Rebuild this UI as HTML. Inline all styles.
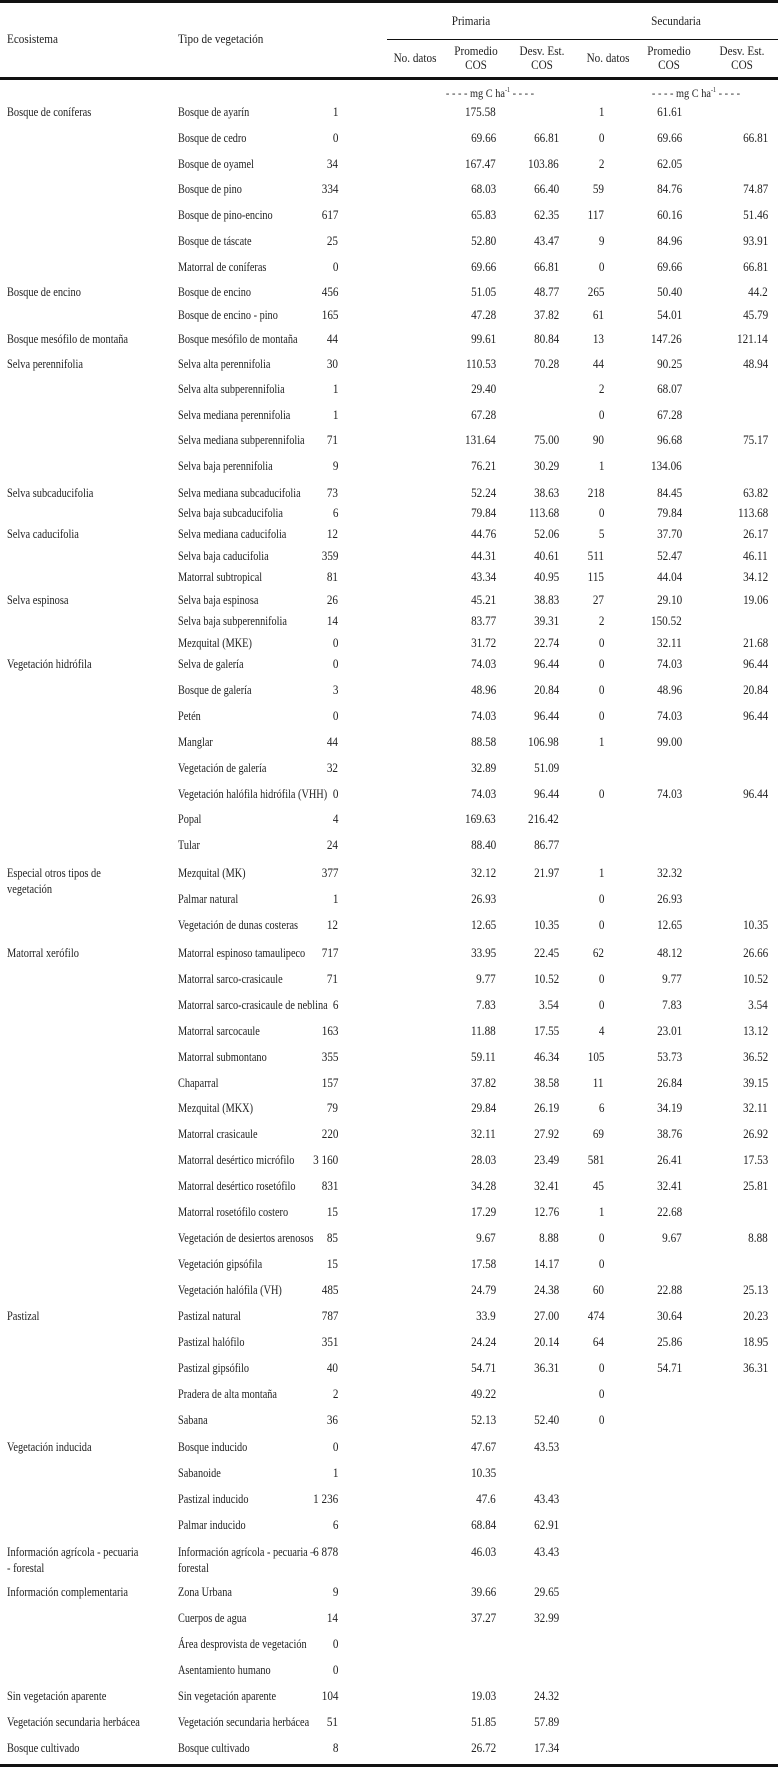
<!DOCTYPE html>
<html><head><meta charset="utf-8"><style>
body{margin:0;background:#fff;width:778px;height:1768px;position:relative;overflow:hidden;font-family:"Liberation Serif",serif;font-size:13px;color:#222}
.l{position:absolute;left:0;width:778px;background:#111}
.r{position:absolute;left:0;width:778px;height:16px;line-height:16px}
.r span{position:absolute;white-space:nowrap;top:0}
.e{left:7px;transform:scaleX(.80);transform-origin:left}
.t{left:178px;transform:scaleX(.79);transform-origin:left}
.a,.b,.c,.d,.f,.g{transform:scaleX(.86);transform-origin:right;text-align:right}
.a{right:440px}.b{right:282px}.c{right:219px}.d{right:174px}.f{right:96px}.g{right:10px}
.h{position:absolute;white-space:nowrap;text-align:center;line-height:14px;transform:scaleX(.86)}
</style></head><body>
<div class="l" style="top:0;height:3px"></div>
<div class="l" style="top:39px;left:387px;width:391px;height:1px"></div>
<div class="l" style="top:77px;height:3px"></div>
<div class="l" style="top:1764px;height:3px"></div>
<div class="h" style="left:7px;top:32px;transform-origin:left">Ecosistema</div>
<div class="h" style="left:178px;top:32px;transform-origin:left">Tipo de vegetación</div>
<div class="h" style="left:441px;top:14px;width:60px">Primaria</div>
<div class="h" style="left:641px;top:14px;width:70px">Secundaria</div>
<div class="h" style="left:385px;top:51px;width:60px">No. datos</div>
<div class="h" style="left:448px;top:44px;width:56px">Promedio<br>COS</div>
<div class="h" style="left:514px;top:44px;width:56px">Desv. Est.<br>COS</div>
<div class="h" style="left:578px;top:51px;width:60px">No. datos</div>
<div class="h" style="left:641px;top:44px;width:56px">Promedio<br>COS</div>
<div class="h" style="left:714px;top:44px;width:56px">Desv. Est.<br>COS</div>
<div class="h" style="left:430px;top:83px;width:120px;font-size:12px">- - - - mg C ha<sup style="font-size:7px">-1</sup> - - - -</div>
<div class="h" style="left:636px;top:83px;width:120px;font-size:12px">- - - - mg C ha<sup style="font-size:7px">-1</sup> - - - -</div>

<div class="r" style="top:104px"><span class="e">Bosque de coníferas</span><span class="t">Bosque de ayarín</span><span class="a">1</span><span class="b">175.58</span><span class="d">1</span><span class="f">61.61</span></div>
<div class="r" style="top:130px"><span class="t">Bosque de cedro</span><span class="a">0</span><span class="b">69.66</span><span class="c">66.81</span><span class="d">0</span><span class="f">69.66</span><span class="g">66.81</span></div>
<div class="r" style="top:156px"><span class="t">Bosque de oyamel</span><span class="a">34</span><span class="b">167.47</span><span class="c">103.86</span><span class="d">2</span><span class="f">62.05</span></div>
<div class="r" style="top:181px"><span class="t">Bosque de pino</span><span class="a">334</span><span class="b">68.03</span><span class="c">66.40</span><span class="d">59</span><span class="f">84.76</span><span class="g">74.87</span></div>
<div class="r" style="top:207px"><span class="t">Bosque de pino-encino</span><span class="a">617</span><span class="b">65.83</span><span class="c">62.35</span><span class="d">117</span><span class="f">60.16</span><span class="g">51.46</span></div>
<div class="r" style="top:233px"><span class="t">Bosque de táscate</span><span class="a">25</span><span class="b">52.80</span><span class="c">43.47</span><span class="d">9</span><span class="f">84.96</span><span class="g">93.91</span></div>
<div class="r" style="top:259px"><span class="t">Matorral de coníferas</span><span class="a">0</span><span class="b">69.66</span><span class="c">66.81</span><span class="d">0</span><span class="f">69.66</span><span class="g">66.81</span></div>
<div class="r" style="top:284px"><span class="e">Bosque de encino</span><span class="t">Bosque de encino</span><span class="a">456</span><span class="b">51.05</span><span class="c">48.77</span><span class="d">265</span><span class="f">50.40</span><span class="g">44.2</span></div>
<div class="r" style="top:307px"><span class="t">Bosque de encino - pino</span><span class="a">165</span><span class="b">47.28</span><span class="c">37.82</span><span class="d">61</span><span class="f">54.01</span><span class="g">45.79</span></div>
<div class="r" style="top:331px"><span class="e">Bosque mesófilo de montaña</span><span class="t">Bosque mesófilo de montaña</span><span class="a">44</span><span class="b">99.61</span><span class="c">80.84</span><span class="d">13</span><span class="f">147.26</span><span class="g">121.14</span></div>
<div class="r" style="top:356px"><span class="e">Selva perennifolia</span><span class="t">Selva alta perennifolia</span><span class="a">30</span><span class="b">110.53</span><span class="c">70.28</span><span class="d">44</span><span class="f">90.25</span><span class="g">48.94</span></div>
<div class="r" style="top:381px"><span class="t">Selva alta subperennifolia</span><span class="a">1</span><span class="b">29.40</span><span class="d">2</span><span class="f">68.07</span></div>
<div class="r" style="top:407px"><span class="t">Selva mediana perennifolia</span><span class="a">1</span><span class="b">67.28</span><span class="d">0</span><span class="f">67.28</span></div>
<div class="r" style="top:432px"><span class="t">Selva mediana subperennifolia</span><span class="a">71</span><span class="b">131.64</span><span class="c">75.00</span><span class="d">90</span><span class="f">96.68</span><span class="g">75.17</span></div>
<div class="r" style="top:458px"><span class="t">Selva baja perennifolia</span><span class="a">9</span><span class="b">76.21</span><span class="c">30.29</span><span class="d">1</span><span class="f">134.06</span></div>
<div class="r" style="top:485px"><span class="e">Selva subcaducifolia</span><span class="t">Selva mediana subcaducifolia</span><span class="a">73</span><span class="b">52.24</span><span class="c">38.63</span><span class="d">218</span><span class="f">84.45</span><span class="g">63.82</span></div>
<div class="r" style="top:505px"><span class="t">Selva baja subcaducifolia</span><span class="a">6</span><span class="b">79.84</span><span class="c">113.68</span><span class="d">0</span><span class="f">79.84</span><span class="g">113.68</span></div>
<div class="r" style="top:526px"><span class="e">Selva caducifolia</span><span class="t">Selva mediana caducifolia</span><span class="a">12</span><span class="b">44.76</span><span class="c">52.06</span><span class="d">5</span><span class="f">37.70</span><span class="g">26.17</span></div>
<div class="r" style="top:548px"><span class="t">Selva baja caducifolia</span><span class="a">359</span><span class="b">44.31</span><span class="c">40.61</span><span class="d">511</span><span class="f">52.47</span><span class="g">46.11</span></div>
<div class="r" style="top:569px"><span class="t">Matorral subtropical</span><span class="a">81</span><span class="b">43.34</span><span class="c">40.95</span><span class="d">115</span><span class="f">44.04</span><span class="g">34.12</span></div>
<div class="r" style="top:592px"><span class="e">Selva espinosa</span><span class="t">Selva baja espinosa</span><span class="a">26</span><span class="b">45.21</span><span class="c">38.83</span><span class="d">27</span><span class="f">29.10</span><span class="g">19.06</span></div>
<div class="r" style="top:613px"><span class="t">Selva baja subperennifolia</span><span class="a">14</span><span class="b">83.77</span><span class="c">39.31</span><span class="d">2</span><span class="f">150.52</span></div>
<div class="r" style="top:635px"><span class="t">Mezquital (MKE)</span><span class="a">0</span><span class="b">31.72</span><span class="c">22.74</span><span class="d">0</span><span class="f">32.11</span><span class="g">21.68</span></div>
<div class="r" style="top:656px"><span class="e">Vegetación hidrófila</span><span class="t">Selva de galería</span><span class="a">0</span><span class="b">74.03</span><span class="c">96.44</span><span class="d">0</span><span class="f">74.03</span><span class="g">96.44</span></div>
<div class="r" style="top:682px"><span class="t">Bosque de galería</span><span class="a">3</span><span class="b">48.96</span><span class="c">20.84</span><span class="d">0</span><span class="f">48.96</span><span class="g">20.84</span></div>
<div class="r" style="top:708px"><span class="t">Petén</span><span class="a">0</span><span class="b">74.03</span><span class="c">96.44</span><span class="d">0</span><span class="f">74.03</span><span class="g">96.44</span></div>
<div class="r" style="top:734px"><span class="t">Manglar</span><span class="a">44</span><span class="b">88.58</span><span class="c">106.98</span><span class="d">1</span><span class="f">99.00</span></div>
<div class="r" style="top:760px"><span class="t">Vegetación de galería</span><span class="a">32</span><span class="b">32.89</span><span class="c">51.09</span></div>
<div class="r" style="top:786px"><span class="t">Vegetación halófila hidrófila (VHH)</span><span class="a">0</span><span class="b">74.03</span><span class="c">96.44</span><span class="d">0</span><span class="f">74.03</span><span class="g">96.44</span></div>
<div class="r" style="top:811px"><span class="t">Popal</span><span class="a">4</span><span class="b">169.63</span><span class="c">216.42</span></div>
<div class="r" style="top:837px"><span class="t">Tular</span><span class="a">24</span><span class="b">88.40</span><span class="c">86.77</span></div>
<div class="r" style="top:865px"><span class="e">Especial otros tipos de</span><span class="t">Mezquital (MK)</span><span class="a">377</span><span class="b">32.12</span><span class="c">21.97</span><span class="d">1</span><span class="f">32.32</span></div>
<div class="r" style="top:881px"><span class="e">vegetación</span></div>
<div class="r" style="top:891px"><span class="t">Palmar natural</span><span class="a">1</span><span class="b">26.93</span><span class="d">0</span><span class="f">26.93</span></div>
<div class="r" style="top:917px"><span class="t">Vegetación de dunas costeras</span><span class="a">12</span><span class="b">12.65</span><span class="c">10.35</span><span class="d">0</span><span class="f">12.65</span><span class="g">10.35</span></div>
<div class="r" style="top:945px"><span class="e">Matorral xerófilo</span><span class="t">Matorral espinoso tamaulipeco</span><span class="a">717</span><span class="b">33.95</span><span class="c">22.45</span><span class="d">62</span><span class="f">48.12</span><span class="g">26.66</span></div>
<div class="r" style="top:971px"><span class="t">Matorral sarco-crasicaule</span><span class="a">71</span><span class="b">9.77</span><span class="c">10.52</span><span class="d">0</span><span class="f">9.77</span><span class="g">10.52</span></div>
<div class="r" style="top:997px"><span class="t">Matorral sarco-crasicaule de neblina</span><span class="a">6</span><span class="b">7.83</span><span class="c">3.54</span><span class="d">0</span><span class="f">7.83</span><span class="g">3.54</span></div>
<div class="r" style="top:1023px"><span class="t">Matorral sarcocaule</span><span class="a">163</span><span class="b">11.88</span><span class="c">17.55</span><span class="d">4</span><span class="f">23.01</span><span class="g">13.12</span></div>
<div class="r" style="top:1049px"><span class="t">Matorral submontano</span><span class="a">355</span><span class="b">59.11</span><span class="c">46.34</span><span class="d">105</span><span class="f">53.73</span><span class="g">36.52</span></div>
<div class="r" style="top:1075px"><span class="t">Chaparral</span><span class="a">157</span><span class="b">37.82</span><span class="c">38.58</span><span class="d">11</span><span class="f">26.84</span><span class="g">39.15</span></div>
<div class="r" style="top:1100px"><span class="t">Mezquital (MKX)</span><span class="a">79</span><span class="b">29.84</span><span class="c">26.19</span><span class="d">6</span><span class="f">34.19</span><span class="g">32.11</span></div>
<div class="r" style="top:1126px"><span class="t">Matorral crasicaule</span><span class="a">220</span><span class="b">32.11</span><span class="c">27.92</span><span class="d">69</span><span class="f">38.76</span><span class="g">26.92</span></div>
<div class="r" style="top:1152px"><span class="t">Matorral desértico micrófilo</span><span class="a">3 160</span><span class="b">28.03</span><span class="c">23.49</span><span class="d">581</span><span class="f">26.41</span><span class="g">17.53</span></div>
<div class="r" style="top:1178px"><span class="t">Matorral desértico rosetófilo</span><span class="a">831</span><span class="b">34.28</span><span class="c">32.41</span><span class="d">45</span><span class="f">32.41</span><span class="g">25.81</span></div>
<div class="r" style="top:1204px"><span class="t">Matorral rosetófilo costero</span><span class="a">15</span><span class="b">17.29</span><span class="c">12.76</span><span class="d">1</span><span class="f">22.68</span></div>
<div class="r" style="top:1230px"><span class="t">Vegetación de desiertos arenosos</span><span class="a">85</span><span class="b">9.67</span><span class="c">8.88</span><span class="d">0</span><span class="f">9.67</span><span class="g">8.88</span></div>
<div class="r" style="top:1256px"><span class="t">Vegetación gipsófila</span><span class="a">15</span><span class="b">17.58</span><span class="c">14.17</span><span class="d">0</span></div>
<div class="r" style="top:1282px"><span class="t">Vegetación halófila (VH)</span><span class="a">485</span><span class="b">24.79</span><span class="c">24.38</span><span class="d">60</span><span class="f">22.88</span><span class="g">25.13</span></div>
<div class="r" style="top:1308px"><span class="e">Pastizal</span><span class="t">Pastizal natural</span><span class="a">787</span><span class="b">33.9</span><span class="c">27.00</span><span class="d">474</span><span class="f">30.64</span><span class="g">20.23</span></div>
<div class="r" style="top:1334px"><span class="t">Pastizal halófilo</span><span class="a">351</span><span class="b">24.24</span><span class="c">20.14</span><span class="d">64</span><span class="f">25.86</span><span class="g">18.95</span></div>
<div class="r" style="top:1360px"><span class="t">Pastizal gipsófilo</span><span class="a">40</span><span class="b">54.71</span><span class="c">36.31</span><span class="d">0</span><span class="f">54.71</span><span class="g">36.31</span></div>
<div class="r" style="top:1386px"><span class="t">Pradera de alta montaña</span><span class="a">2</span><span class="b">49.22</span><span class="d">0</span></div>
<div class="r" style="top:1412px"><span class="t">Sabana</span><span class="a">36</span><span class="b">52.13</span><span class="c">52.40</span><span class="d">0</span></div>
<div class="r" style="top:1439px"><span class="e">Vegetación inducida</span><span class="t">Bosque inducido</span><span class="a">0</span><span class="b">47.67</span><span class="c">43.53</span></div>
<div class="r" style="top:1465px"><span class="t">Sabanoide</span><span class="a">1</span><span class="b">10.35</span></div>
<div class="r" style="top:1491px"><span class="t">Pastizal inducido</span><span class="a">1 236</span><span class="b">47.6</span><span class="c">43.43</span></div>
<div class="r" style="top:1517px"><span class="t">Palmar inducido</span><span class="a">6</span><span class="b">68.84</span><span class="c">62.91</span></div>
<div class="r" style="top:1544px"><span class="e">Información agrícola - pecuaria</span><span class="t">Información agrícola - pecuaria –</span><span class="a">6 878</span><span class="b">46.03</span><span class="c">43.43</span></div>
<div class="r" style="top:1560px"><span class="e">- forestal</span><span class="t">forestal</span></div>
<div class="r" style="top:1584px"><span class="e">Información complementaria</span><span class="t">Zona Urbana</span><span class="a">9</span><span class="b">39.66</span><span class="c">29.65</span></div>
<div class="r" style="top:1610px"><span class="t">Cuerpos de agua</span><span class="a">14</span><span class="b">37.27</span><span class="c">32.99</span></div>
<div class="r" style="top:1636px"><span class="t">Área desprovista de vegetación</span><span class="a">0</span></div>
<div class="r" style="top:1662px"><span class="t">Asentamiento humano</span><span class="a">0</span></div>
<div class="r" style="top:1688px"><span class="e">Sin vegetación aparente</span><span class="t">Sin vegetación aparente</span><span class="a">104</span><span class="b">19.03</span><span class="c">24.32</span></div>
<div class="r" style="top:1714px"><span class="e">Vegetación secundaria herbácea</span><span class="t">Vegetación secundaria herbácea</span><span class="a">51</span><span class="b">51.85</span><span class="c">57.89</span></div>
<div class="r" style="top:1740px"><span class="e">Bosque cultivado</span><span class="t">Bosque cultivado</span><span class="a">8</span><span class="b">26.72</span><span class="c">17.34</span></div>
</body></html>
